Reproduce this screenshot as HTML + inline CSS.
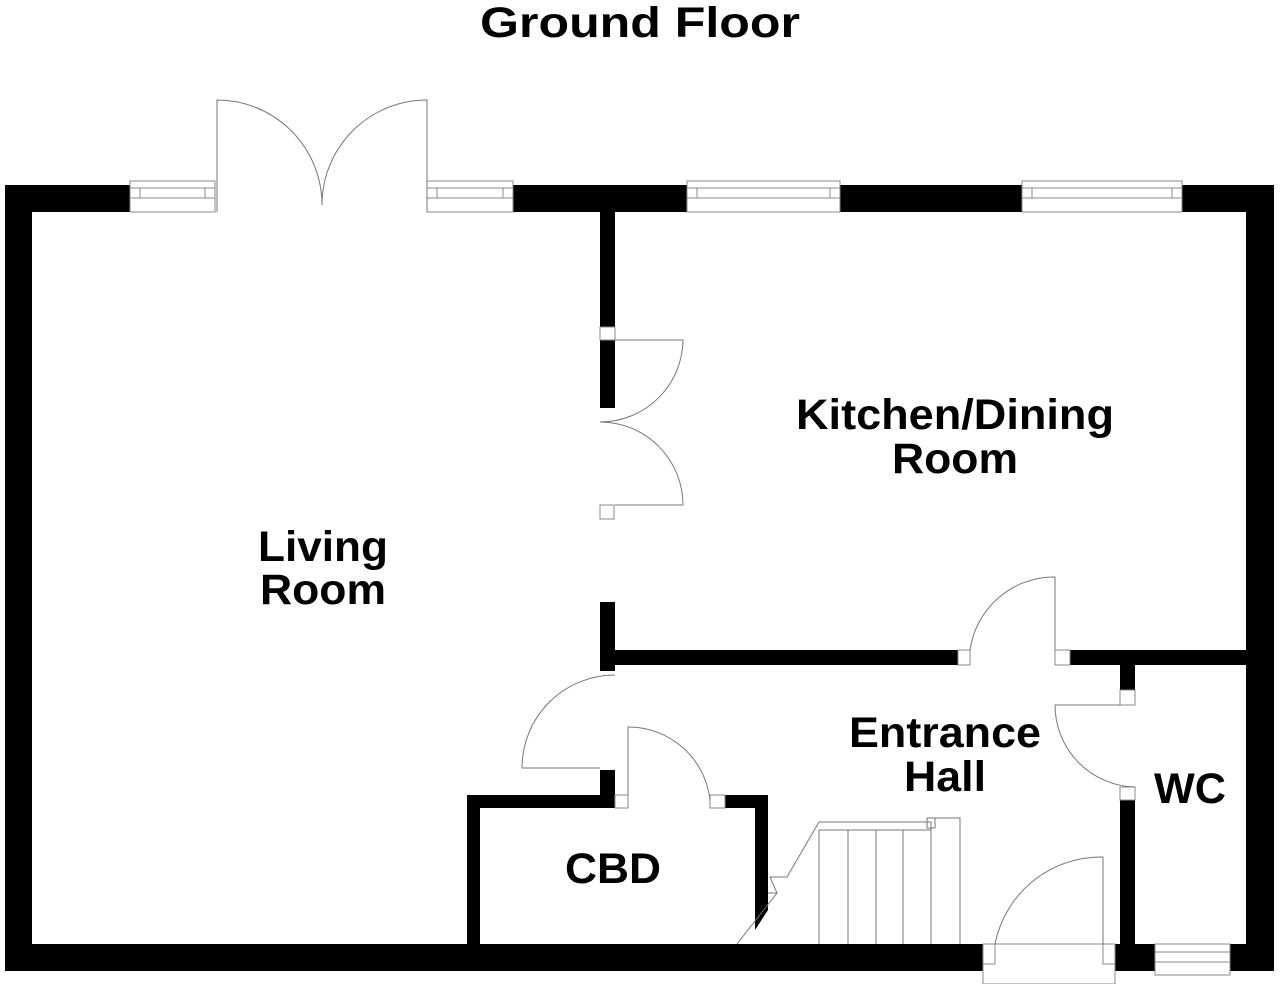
<!DOCTYPE html>
<html><head><meta charset="utf-8"><style>
html,body{margin:0;padding:0;background:#fff;}
svg{display:block;}
text{font-family:"Liberation Sans",Arial,sans-serif;font-weight:bold;fill:#000;}
</style></head><body>
<svg width="1280" height="984" viewBox="0 0 1280 984" xmlns="http://www.w3.org/2000/svg">
<g fill="#000">
<rect x="5" y="185" width="125" height="27"/>
<rect x="513" y="185" width="174" height="27"/>
<rect x="840" y="185" width="182" height="27"/>
<rect x="1182" y="185" width="92" height="27"/>
<rect x="5" y="185" width="27" height="786"/>
<rect x="1246" y="185" width="28" height="786"/>
<rect x="5" y="944" width="978" height="27"/>
<rect x="1115" y="944" width="40" height="27"/>
<rect x="1230" y="944" width="44" height="27"/>
<rect x="600" y="212" width="15" height="115"/>
<rect x="600" y="340" width="15" height="68"/>
<rect x="600" y="602" width="15" height="69"/>
<rect x="615" y="650" width="343" height="15"/>
<rect x="1070" y="650" width="176" height="15"/>
<rect x="1120" y="665" width="15" height="25"/>
<rect x="1120" y="800" width="15" height="144"/>
<rect x="600" y="770" width="15" height="25"/>
<rect x="467" y="795" width="148" height="13"/>
<rect x="467" y="795" width="13" height="149"/>
<rect x="725" y="795" width="43" height="13"/>
<rect x="755" y="795" width="13" height="80"/>
<polygon points="755,875 768,875 768,910 755,930"/>
</g>
<g fill="#fff" stroke="#888" stroke-width="1">
<rect x="130" y="181" width="85" height="31"/><rect x="130" y="188" width="85" height="10"/>
<rect x="427" y="181" width="86" height="31"/><rect x="427" y="188" width="86" height="10"/>
<rect x="687" y="181" width="153" height="31"/><rect x="687" y="188" width="153" height="10"/>
<rect x="1022" y="181" width="160" height="31"/><rect x="1022" y="188" width="160" height="10"/>
<rect x="1155" y="944" width="75" height="31"/><rect x="1155" y="952" width="75" height="10"/>
<rect x="600" y="327" width="15" height="13"/>
<rect x="600" y="505" width="14" height="14"/>
<rect x="958" y="650" width="12" height="15"/>
<rect x="1055" y="650" width="15" height="15"/>
<rect x="1120" y="690" width="15" height="15"/>
<rect x="1120" y="787" width="15" height="13"/>
<rect x="615" y="795" width="13" height="13"/>
<rect x="710" y="795" width="15" height="13"/>
<rect x="983" y="944" width="132" height="40"/>
<rect x="983" y="944" width="12" height="20"/>
<rect x="1103" y="944" width="12" height="20"/>
</g>
<g fill="none" stroke="#888" stroke-width="1">
<path d="M140,188 V198 M205,188 V198 M437,188 V198 M503,188 V198 M697,188 V198 M830,188 V198 M1032,188 V198 M1172,188 V198"/>
</g>
<g fill="none" stroke="#777" stroke-width="1">
<path d="M217,212 V100 A105,105 0 0 1 322,205"/>
<path d="M427,212 V100 A105,105 0 0 0 322,205"/>
<path d="M615,340 H683 A83,83 0 0 1 600,422"/>
<path d="M615,505 H683 A83,83 0 0 0 600,422"/>
<path d="M1055,650 V577 A85,85 0 0 0 970,650"/>
<path d="M1120,705 H1055 A82,82 0 0 0 1135,787"/>
<path d="M615,675 A93,93 0 0 0 522,768 H600"/>
<path d="M628,795 V727 A82,82 0 0 1 710,800"/>
<path d="M1103,944 V857 A108,108 0 0 0 995,944"/>
<path d="M819,822 H931 V944"/>
<path d="M819,830 H931"/>
<rect x="927" y="818" width="8" height="10"/>
<path d="M931,818 H960 V944"/>
<path d="M819,822 L787,877 L770,877 L777,893 L737,944"/>
<path d="M768,893 H777"/>
<path d="M819,830 V944 M848,830 V944 M876,830 V944 M903,830 V944"/>
</g>
<text x="640" y="37" font-size="43" text-anchor="middle" textLength="320" lengthAdjust="spacingAndGlyphs">Ground Floor</text>
<text x="323" y="561" font-size="43" text-anchor="middle" textLength="130" lengthAdjust="spacingAndGlyphs">Living</text>
<text x="323" y="604" font-size="43" text-anchor="middle" textLength="126" lengthAdjust="spacingAndGlyphs">Room</text>
<text x="955" y="429" font-size="43" text-anchor="middle" textLength="318" lengthAdjust="spacingAndGlyphs">Kitchen/Dining</text>
<text x="955" y="473" font-size="43" text-anchor="middle" textLength="126" lengthAdjust="spacingAndGlyphs">Room</text>
<text x="945" y="747" font-size="43" text-anchor="middle" textLength="192" lengthAdjust="spacingAndGlyphs">Entrance</text>
<text x="945" y="791" font-size="43" text-anchor="middle" textLength="82" lengthAdjust="spacingAndGlyphs">Hall</text>
<text x="1190" y="803" font-size="43" text-anchor="middle" textLength="72" lengthAdjust="spacingAndGlyphs">WC</text>
<text x="613" y="883" font-size="43" text-anchor="middle" textLength="96" lengthAdjust="spacingAndGlyphs">CBD</text>
</svg>
</body></html>
